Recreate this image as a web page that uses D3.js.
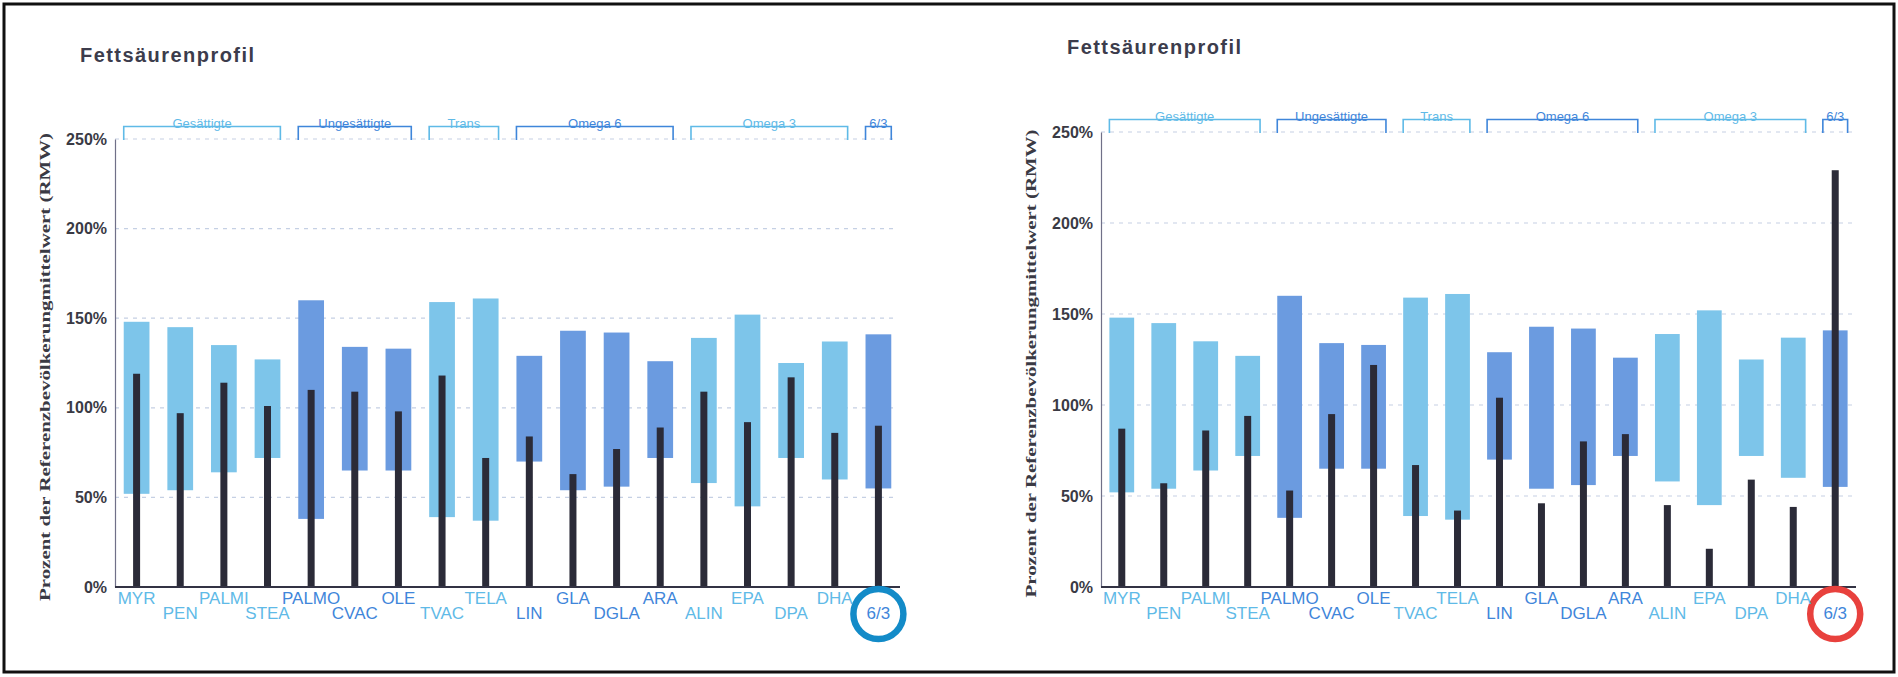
<!DOCTYPE html>
<html>
<head>
<meta charset="utf-8">
<script src="https://cdn.jsdelivr.net/npm/d3@7"></script>
<style>
  html, body { margin: 0; padding: 0; background: #fff; }
  svg { display: block; }
</style>
</head>
<body>
<div id="chart"></div>
<script>
// fatty acids, left to right
const categories = ["MYR", "PEN", "PALMI", "STEA", "PALMO", "CVAC", "OLE", "TVAC", "TELA",
  "LIN", "GLA", "DGLA", "ARA", "ALIN", "EPA", "DPA", "DHA", "6/3"];

// reference range (same in both panels), % of RMW
const refLow  = [52, 54, 64, 72, 38, 65, 65, 39, 37, 70, 54, 56, 72, 58, 45, 72, 60, 55];
const refHigh = [148, 145, 135, 127, 160, 134, 133, 159, 161, 129, 143, 142, 126, 139, 152, 125, 137, 141];

// measured values
const valuesLeft  = [119, 97, 114, 101, 110, 109, 98, 118, 72, 84, 63, 77, 89, 109, 92, 117, 86, 90];
const valuesRight = [87, 57, 86, 94, 53, 95, 122, 67, 42, 104, 46, 80, 84, 45, 21, 59, 44, 229];

// groups over the bars
const groupNames = ["Gesättigte", "Ungesättigte", "Trans", "Omega 6", "Omega 3", "6/3"];
const groupStart = [0, 4, 7, 9, 13, 17];
const groupEnd   = [3, 6, 8, 12, 16, 17];
const groupTone  = ["light", "dark", "light", "dark", "light", "dark"];

const yTicks = [0, 50, 100, 150, 200, 250];

const W = 1898, H = 677;
const barFill  = { light: "#7dc5ea", dark: "#6b9be0" };
const textFill = { light: "#5fbae7", dark: "#3f86da" };

const svg = d3.select("#chart").append("svg")
  .attr("width", W).attr("height", H);

svg.append("rect")
  .attr("x", 4).attr("y", 4).attr("width", W - 8).attr("height", H - 9)
  .attr("fill", "none").attr("stroke", "#111").attr("stroke-width", 3);

function toneOf(i) {
  const g = groupStart.findIndex((s, k) => i >= s && i <= groupEnd[k]);
  return groupTone[g];
}

function drawPanel(p) {
  const x = d3.scaleBand().domain(categories).range([p.x0, p.x1]).paddingInner(0.41).paddingOuter(0.2);
  const y = d3.scaleLinear().domain([0, 250]).range([p.y0, p.y250]);
  const g = svg.append("g");

  g.append("text")
    .attr("x", p.titleX).attr("y", p.titleY)
    .attr("font-family", "Liberation Sans, Arial, sans-serif")
    .attr("font-weight", "bold").attr("font-size", 20)
    .attr("textLength", 174).attr("lengthAdjust", "spacing")
    .attr("fill", "#3c3c4c")
    .text("Fettsäurenprofil");

  // dashed grid
  g.selectAll(".grid").data(yTicks.slice(1)).enter().append("line")
    .attr("x1", p.x0).attr("x2", p.x1 - 4)
    .attr("y1", d => y(d)).attr("y2", d => y(d))
    .attr("stroke", "#c5d0e4").attr("stroke-width", 1.2)
    .attr("stroke-dasharray", "4,5");

  // y axis
  const yAxis = d3.axisLeft(y).tickValues(yTicks).tickSize(0).tickPadding(8).tickFormat(d => d + "%");
  const ya = g.append("g").attr("transform", `translate(${p.x0},0)`).call(yAxis);
  ya.select(".domain").attr("stroke", "#707088").attr("stroke-width", 1.2);
  ya.selectAll("text")
    .attr("font-family", "Liberation Sans Narrow, Arial Narrow, sans-serif")
    .attr("font-weight", "bold").attr("font-size", 16).attr("fill", "#3a3a44");

  g.append("text")
    .attr("transform", `translate(${p.x0 - 65},${(p.y0 + p.y250) / 2 + 4}) rotate(-90)`)
    .attr("text-anchor", "middle")
    .attr("font-family", "Liberation Serif, Times New Roman, serif")
    .attr("font-weight", "bold").attr("font-size", 15)
    .attr("textLength", 468).attr("lengthAdjust", "spacingAndGlyphs")
    .attr("fill", "#3a3a44")
    .text("Prozent der Referenzbevölkerungmittelwert (RMW)");

  // group brackets
  const yt = y(250) - 12.5, yb = y(250) + 1;
  groupNames.forEach((name, k) => {
    const a = x(categories[groupStart[k]]), b = x(categories[groupEnd[k]]) + x.bandwidth();
    const c = textFill[groupTone[k]];
    g.append("path")
      .attr("d", `M${a},${yb}V${yt}H${b}V${yb}`)
      .attr("fill", "none").attr("stroke", c).attr("stroke-width", 1.6);
    g.append("text")
      .attr("x", (a + b) / 2).attr("y", yt + 1)
      .attr("text-anchor", "middle")
      .attr("font-family", "Liberation Sans, Arial, sans-serif")
      .attr("font-size", 13).attr("fill", c)
      .text(name);
  });

  // reference range bars
  g.selectAll(".range").data(categories).enter().append("rect")
    .attr("x", d => x(d))
    .attr("width", x.bandwidth())
    .attr("y", (d, i) => y(refHigh[i]))
    .attr("height", (d, i) => y(refLow[i]) - y(refHigh[i]))
    .attr("fill", (d, i) => barFill[toneOf(i)]);

  // measured value bars
  const bw = 7;
  g.selectAll(".val").data(categories).enter().append("rect")
    .attr("x", d => x(d) + x.bandwidth() / 2 - bw / 2)
    .attr("width", bw)
    .attr("y", (d, i) => y(p.values[i]))
    .attr("height", (d, i) => y(0) - y(p.values[i]))
    .attr("fill", "#2b2b38");

  // x axis line
  g.append("line")
    .attr("x1", p.x0).attr("x2", p.x1)
    .attr("y1", y(0)).attr("y2", y(0))
    .attr("stroke", "#333344").attr("stroke-width", 2);

  // highlight ring around 6/3
  const last = categories[categories.length - 1];
  g.append("circle")
    .attr("cx", x(last) + x.bandwidth() / 2).attr("cy", y(0) + 27)
    .attr("r", 25)
    .attr("fill", "#fff").attr("stroke", p.ring).attr("stroke-width", 6.5);

  // category labels, staggered
  g.selectAll(".lab").data(categories).enter().append("text")
    .attr("x", d => x(d) + x.bandwidth() / 2)
    .attr("y", (d, i) => y(0) + (i % 2 === 0 ? 17 : 32))
    .attr("text-anchor", "middle")
    .attr("font-family", "Liberation Sans Narrow, Arial Narrow, sans-serif")
    .attr("font-size", 17)
    .attr("fill", (d, i) => textFill[toneOf(i)])
    .text(d => d);
}

drawPanel({ x0: 115, x1: 900, y0: 587, y250: 139, titleX: 80, titleY: 62, values: valuesLeft, ring: "#138bc8" });
drawPanel({ x0: 1101, x1: 1856, y0: 587, y250: 132, titleX: 1067, titleY: 54, values: valuesRight, ring: "#e8413d" });
</script>
</body>
</html>
